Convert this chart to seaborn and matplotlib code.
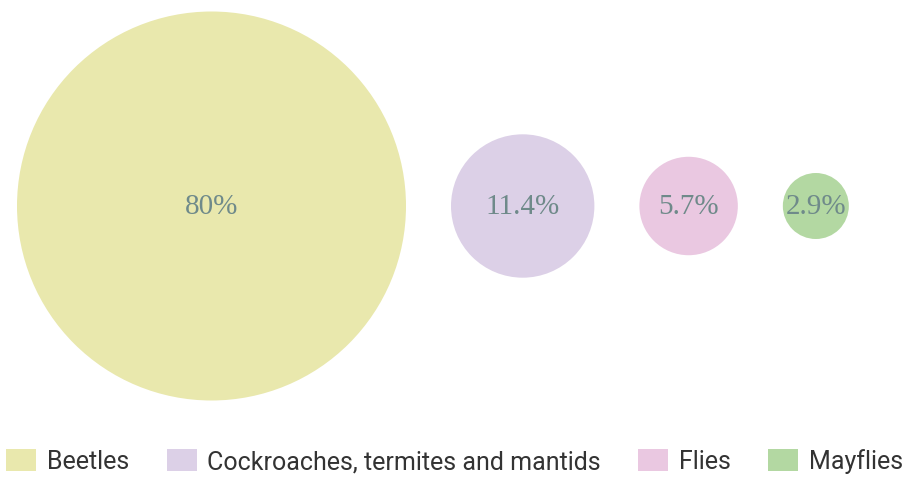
import numpy as np
import pandas as pd
import seaborn as sns
import matplotlib.pyplot as plt
from matplotlib.patches import Patch

categories = ['Beetles', 'Cockroaches, termites and mantids', 'Flies', 'Mayflies']
shares = [80.0, 11.4, 5.7, 2.9]
labels = ['80%', '11.4%', '5.7%', '2.9%']
colors = ['#e9e8ad', '#dcd0e7', '#eac8e1', '#b3d8a2']

W, H, DPI = 909, 485, 100
PT = 72 / DPI  # points per pixel

sns.set_theme(style="white")
plt.rcParams["font.family"] = ["Roboto", "DejaVu Sans"]

fig = plt.figure(figsize=(W / DPI, H / DPI), dpi=DPI)
ax = fig.add_axes([0, 0, 1, 1])

# bubble area grows linearly with the share (seaborn size mapping)
d_min, d_max = 66, 389  # pixel diameters of smallest / largest bubble
s_min, s_max = (d_min * PT) ** 2, (d_max * PT) ** 2
v = np.array(shares)
s = s_min + (v - v.min()) / (v.max() - v.min()) * (s_max - s_min)
diam = np.sqrt(s) / PT

# pack the bubbles left to right with a constant gap
gap, left = 45, 17
xs = left + np.cumsum(diam) - diam / 2 + gap * np.arange(len(diam))
ys = np.full(len(diam), 207.0)

df = pd.DataFrame({'cat': categories, 'share': shares, 'x': xs, 'y': ys})
sns.scatterplot(data=df, x='x', y='y', hue='cat', palette=colors,
                size='share', sizes=(s_min, s_max), linewidth=0,
                legend=False, ax=ax)

for x, y, lab in zip(xs, ys, labels):
    ax.text(x, y, lab, ha='center', va='center', fontsize=21,
            family='Liberation Serif', color='#6f8a8a')

ax.set_xlim(0, W)
ax.set_ylim(H, 0)
ax.axis('off')

handles = [Patch(facecolor=c, edgecolor='none', label=n) for c, n in zip(colors, categories)]
fig.legend(handles=handles, loc='center', bbox_to_anchor=(0.5, 1 - 462 / H), ncol=4,
           frameon=False, fontsize=18, handlelength=1.2, handleheight=0.95,
           handletextpad=0.42, columnspacing=1.5, labelcolor='#333333')

fig.savefig('out.png', dpi=DPI)
